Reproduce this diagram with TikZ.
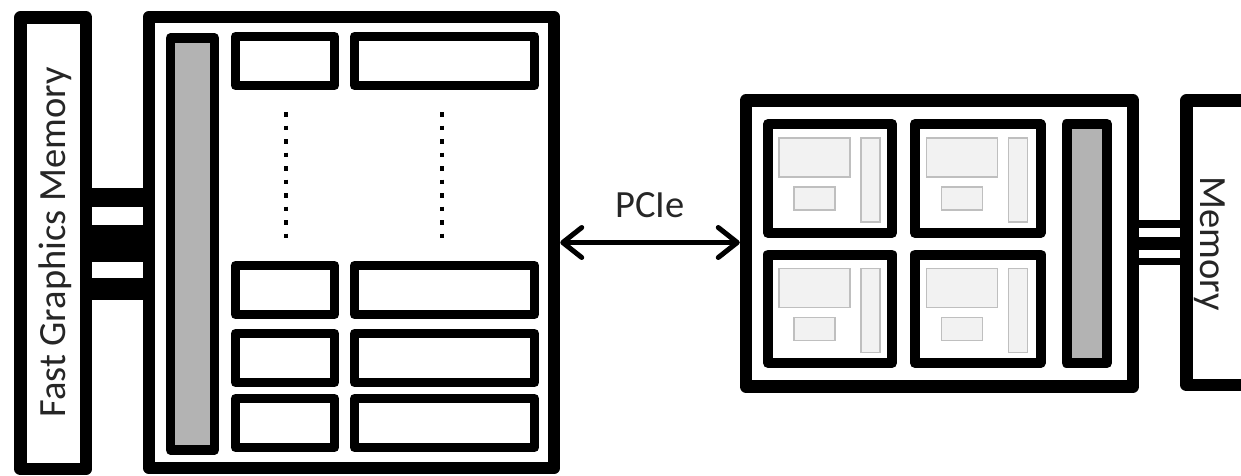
\documentclass[tikz,border=0pt]{standalone}
\usepackage{fontspec}
\setmainfont{Carlito}
\usetikzlibrary{arrows.meta}
\definecolor{bargray}{HTML}{B3B3B3}
\definecolor{partfill}{HTML}{F2F2F2}
\definecolor{partdraw}{HTML}{BFBFBF}
\definecolor{txt}{HTML}{262626}
\begin{document}
\begin{tikzpicture}[x=1pt,y=-1pt,
  every node/.style={inner sep=0pt},
  box/.style={draw, rectangle, line join=round, line width=12.5pt, fill=white},
  unitbox/.style={draw, rectangle, line join=round, line width=9pt, fill=white},
  corebox/.style={draw, rectangle, line join=round, line width=10pt, fill=white},
  graybar/.style={draw, rectangle, line join=round, fill=bargray},
  part/.style={draw=partdraw, fill=partfill, line width=1.3pt},
  dotline/.style={line width=4.5pt, dash pattern=on 4.5pt off 9pt},
  pciearrow/.style={line width=5pt, {Straight Barb[length=19pt,width=30pt,round]}-{Straight Barb[length=19pt,width=30pt,round]}},
  lbl/.style={text=txt, font=\fontsize{38.5}{46}\selectfont},
]
\useasboundingbox (0,0) rectangle (1241,475);
\clip (0,0) rectangle (1241,475);

% ---------- GPU side ----------
\node[box, minimum width=65.5pt, minimum height=451.5pt] (lmem) at (53.25,243.25) {};
\node[box, minimum width=405pt, minimum height=451pt] (gpu) at (351.5,242.5) {};

\coordinate (lb1) at ([yshift=45.75pt]lmem.east);
\coordinate (lb2) at ([yshift=-0.25pt]lmem.east);
\coordinate (lb3) at ([yshift=-45.75pt]lmem.east);
\draw[line width=19pt] (lb1) -- (lb1 -| gpu.west);
\draw[line width=37pt] (lb2) -- (lb2 -| gpu.west);
\draw[line width=22pt] (lb3) -- (lb3 -| gpu.west);

\node[graybar, line width=9.5pt, minimum width=44pt, minimum height=412pt] (gbar) at (192.5,244) {};

\node[unitbox, minimum width=99pt, minimum height=49pt] (a1) at (285,61) {};
\node[unitbox, minimum width=180pt, minimum height=49pt] (b1) at (444.5,61) {};
\node[unitbox, minimum width=99pt, minimum height=49pt] (a2) at (285,290) {};
\node[unitbox, minimum width=180pt, minimum height=49pt] (b2) at (444.5,290) {};
\node[unitbox, minimum width=99pt, minimum height=49pt] (a3) at (285,358) {};
\node[unitbox, minimum width=180pt, minimum height=49pt] (b3) at (444.5,358) {};
\node[unitbox, minimum width=99pt, minimum height=49pt] (a4) at (285,423) {};
\node[unitbox, minimum width=180pt, minimum height=49pt] (b4) at (444.5,423) {};

\draw[dotline] ([xshift=1pt,yshift=-22pt]a1.south) -- ([xshift=1pt,yshift=23pt]a2.north);
\draw[dotline] ([xshift=-2.5pt,yshift=-22pt]b1.south) -- ([xshift=-2.5pt,yshift=23pt]b2.north);

\node[lbl, rotate=90, anchor=base] (fgm) at (65,242.5) {Fast Graphics Memory};

% ---------- CPU side ----------
\node[box, minimum width=387pt, minimum height=286pt] (cpu) at (939.5,243.5) {};
\node[box, minimum width=120pt, minimum height=284.5pt] (rmem) at (1246.5,242.75) {};

\coordinate (rb1) at ([yshift=19.5pt]cpu.east);
\coordinate (rb2) at (cpu.east);
\coordinate (rb3) at ([yshift=-18pt]cpu.east);
\draw[line width=8pt] (rb1) -- (rb1 -| rmem.west);
\draw[line width=13pt] (rb2) -- (rb2 -| rmem.west);
\draw[line width=7pt] (rb3) -- (rb3 -| rmem.west);

\node[corebox, minimum width=124pt, minimum height=109pt] (c1) at (830,178.5) {};
\node[corebox, minimum width=125.5pt, minimum height=109pt] (c2) at (977.75,178.5) {};
\node[corebox, minimum width=124pt, minimum height=108.5pt] (c3) at (830,308.75) {};
\node[corebox, minimum width=125.5pt, minimum height=108.5pt] (c4) at (977.75,308.75) {};

\foreach \c in {c1,c2,c3,c4}{
  \draw[part] ([shift={(-51,-40.5)}]\c.center) rectangle ([shift={(20,-1.5)}]\c.center);
  \draw[part] ([shift={(-36,8.5)}]\c.center) rectangle ([shift={(5,31.5)}]\c.center);
  \draw[part] ([shift={(31,-40.5)}]\c.center) rectangle ([shift={(50,43.5)}]\c.center);
}

\node[graybar, line width=10pt, minimum width=40.5pt, minimum height=239pt] (cbar) at (1086.75,243.5) {};

\node[lbl, rotate=-90, anchor=base] (ml) at (1200,243.5) {Memory};

% ---------- PCIe ----------
\draw[pciearrow] (gpu.east) -- (gpu.east -| cpu.west)
  node[lbl, midway, anchor=base, yshift=25.5pt] (pcie) {PCIe};
\end{tikzpicture}
\end{document}
